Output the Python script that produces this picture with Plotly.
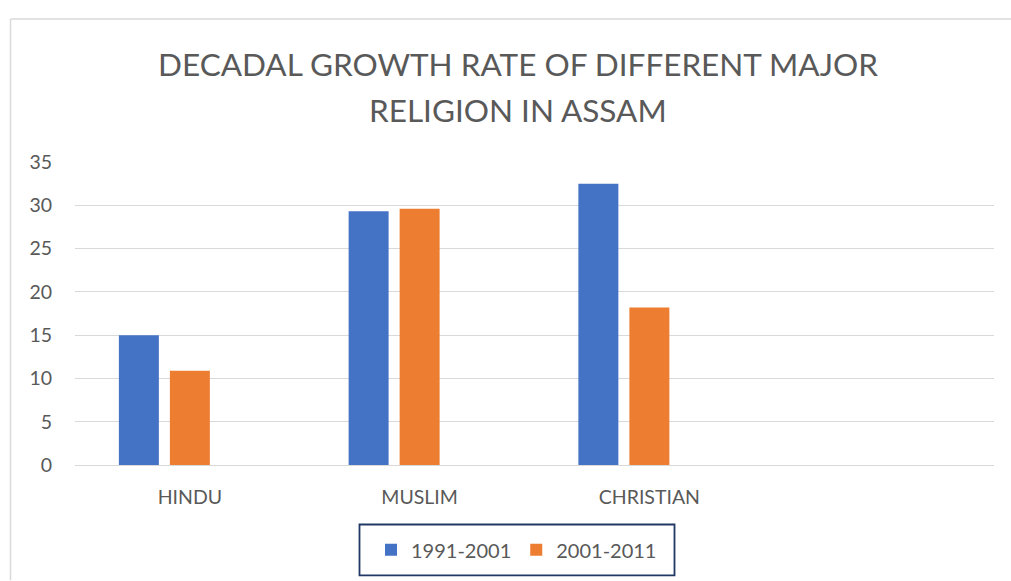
import plotly.graph_objects as go

categories = ["HINDU", "MUSLIM", "CHRISTIAN"]
series_names = ["1991-2001", "2001-2011"]
growth_1991_2001 = [15.0, 29.3, 32.5]
growth_2001_2011 = [10.9, 29.6, 18.2]
y_ticks = [0, 5, 10, 15, 20, 25, 30, 35]
title_lines = ["DECADAL GROWTH RATE OF DIFFERENT MAJOR", "RELIGION IN ASSAM"]

W, H = 1011, 581
L, R = 75, 994
T, B = 161.7, 468.3
FONT = "Lato"
GREY = "#595959"

def px_x(x):
    return (x - L) / (R - L)

def px_y(y):
    return (B - y) / (B - T)

fig = go.Figure()
fig.add_trace(go.Bar(x=categories, y=growth_1991_2001, name=series_names[0],
                     marker=dict(color="#4472C4", line=dict(width=0)),
                     width=0.174, offset=-0.309))
fig.add_trace(go.Bar(x=categories, y=growth_2001_2011, name=series_names[1],
                     marker=dict(color="#ED7D31", line=dict(width=0)),
                     width=0.174, offset=-0.087))

annotations = []
for i, (line, ypix) in enumerate(zip(title_lines, [63, 109])):
    annotations.append(dict(text=line, xref="paper", yref="paper",
                            x=px_x(517.5), y=px_y(ypix), xanchor="center", yanchor="middle",
                            showarrow=False, font=dict(family=FONT, size=31.5, color=GREY)))

shapes = [
    dict(type="line", xref="paper", yref="paper", x0=px_x(10.5), x1=px_x(1011), y0=px_y(17), y1=px_y(17),
         line=dict(color="#d9d9d9", width=1.5)),
    dict(type="line", xref="paper", yref="paper", x0=px_x(10.5), x1=px_x(10.5), y0=px_y(17), y1=px_y(585),
         line=dict(color="#d9d9d9", width=1.5)),
    dict(type="rect", xref="paper", yref="paper", x0=px_x(359.5), x1=px_x(674.5), y0=px_y(528.5), y1=px_y(580),
         line=dict(color="#203864", width=1.8), fillcolor="rgba(0,0,0,0)"),
]

fig.update_layout(
    width=W, height=H,
    margin=dict(l=L, r=W - R, t=T, b=H - B, pad=0),
    paper_bgcolor="white", plot_bgcolor="white",
    font=dict(family=FONT, size=19.5, color=GREY),
    showlegend=True,
    legend=dict(orientation="h", x=px_x(516.5), xanchor="center", y=px_y(554), yanchor="middle",
                borderwidth=0, bgcolor="rgba(0,0,0,0)", font=dict(family=FONT, size=20, color=GREY),
                traceorder="normal", itemwidth=30),
    annotations=annotations,
    shapes=shapes,
)
fig.update_xaxes(range=[-0.5, 3.5], showgrid=False, zeroline=False, showline=False,
                 ticks="", ticklabelstandoff=18, tickfont=dict(family=FONT, size=19.5, color=GREY))
fig.update_yaxes(range=[0, 35], tickvals=y_ticks, showgrid=True, gridcolor="#d9d9d9", gridwidth=1.4,
                 zeroline=True, zerolinecolor="#d9d9d9", zerolinewidth=1.4, showline=False,
                 ticks="", ticklabelstandoff=22, tickfont=dict(family=FONT, size=19.5, color=GREY))

fig.write_html("out.html", post_script="document.body.style.margin='0';",
               config={"displayModeBar": False})
